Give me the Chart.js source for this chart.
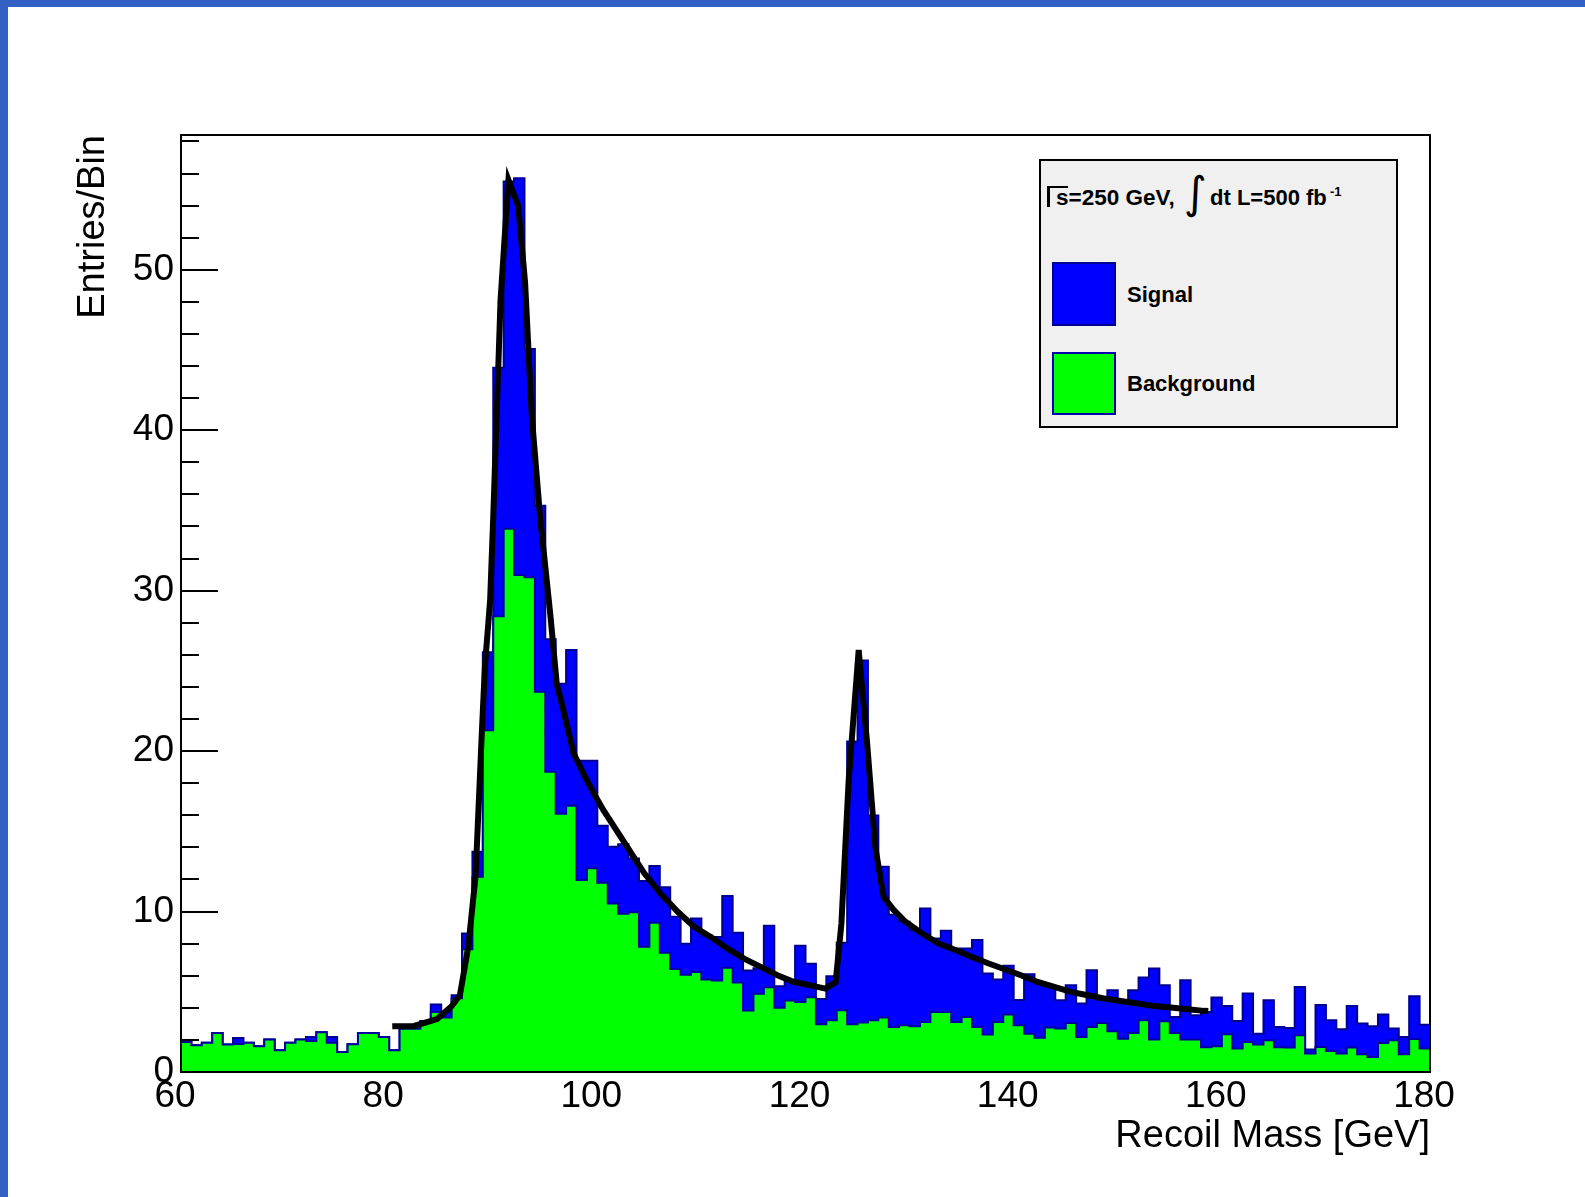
<!DOCTYPE html>
<html>
<head>
<meta charset="utf-8">
<title>Recoil Mass</title>
<script src="https://cdn.jsdelivr.net/npm/chart.js@4.4.1/dist/chart.umd.min.js"></script>
<style>
  html, body { margin: 0; padding: 0; background: #fff; }
  #wrap { position: relative; width: 1585px; height: 1197px; overflow: hidden; background: #fff; }
  #plot { position: absolute; left: 0; top: 0; }
  .band { position: absolute; background: #3260c5; }

  /* legend box, ROOT TLegend look */
  #legend {
    position: absolute; left: 1039px; top: 159px; width: 359px; height: 269px;
    box-sizing: border-box; background: #f0f0f0; border: 2px solid #000;
    font-family: "Liberation Sans", Arial, sans-serif; font-weight: bold; color: #000;
  }
  #legend div { position: absolute; white-space: nowrap; }
  .txt { font-size: 22px; line-height: 22px; }
  .swatch { box-sizing: border-box; width: 64px; height: 64px; }
</style>
</head>
<body>
<div id="wrap">
  <canvas id="plot" width="1585" height="1197"></canvas>
  <div class="band" style="left:0;top:0;width:1585px;height:7px;"></div>
  <div class="band" style="left:0;top:0;width:8px;height:1197px;"></div>

  <div id="legend">
    <div style="left:6px;top:25px;width:3px;height:21px;background:#000;"></div>
    <div style="left:7px;top:25px;width:20px;height:2px;background:#000;"></div>
    <div class="txt" style="left:15px;top:26px;font-size:22.5px;">s=250 GeV,</div>
    <div style="left:143px;top:6px;font-family:'DejaVu Sans';font-weight:normal;font-size:44px;line-height:52px;">&#8747;</div>
    <div class="txt" style="left:169px;top:26px;">dt L=500 fb</div>
    <div style="left:289px;top:24px;font-size:13px;line-height:13px;">-1</div>

    <div class="swatch" style="left:11px;top:101px;background:#0000ff;border:2px solid #000090;"></div>
    <div class="txt" style="left:86px;top:123px;">Signal</div>
    <div class="swatch" style="left:11px;top:191px;height:63px;background:#00ff00;border:2px solid #0000b0;"></div>
    <div class="txt" style="left:86px;top:212px;">Background</div>
  </div>
</div>

<script>
// ---- histogram binning ----
const massMin = 60;
const massMax = 180;
const binWidth = 1;

// signal + background (top of blue stack), one value per 1 GeV bin, 60..180
const totalEntries = [
  1.87, 1.67, 1.83, 2.43, 1.71, 2.12, 1.83, 1.60, 2.02, 1.35,
  1.83, 2.02, 2.18, 2.47, 2.18, 1.25, 1.73, 2.43, 2.43, 2.18,
  1.35, 2.70, 2.70, 3.18, 4.20, 3.74, 4.78, 8.63, 13.72, 26.16,
  43.90, 55.50, 55.70, 45.06, 35.29, 26.97, 24.20, 26.30, 19.40, 19.40,
  15.35, 14.04, 14.20, 13.30, 11.90, 12.84, 11.52, 9.67, 8.00, 9.57,
  8.50, 8.42, 10.97, 8.68, 6.32, 6.47, 9.12, 5.35, 5.70, 7.87,
  6.74, 4.55, 5.97, 8.05, 20.60, 25.64, 15.98, 12.79, 9.80, 9.36,
  8.84, 10.19, 8.32, 8.80, 7.70, 7.70, 8.22, 6.14, 5.76, 6.62,
  4.49, 6.09, 5.51, 5.30, 4.47, 5.41, 4.27, 6.34, 4.47, 5.10,
  4.27, 5.10, 5.89, 6.45, 5.41, 3.43, 5.72, 3.54, 3.74, 4.64,
  4.12, 3.18, 4.89, 2.39, 4.47, 2.81, 2.75, 5.30, 1.40, 4.18,
  3.23, 2.66, 4.12, 3.02, 2.85, 3.58, 2.71, 2.18, 4.72, 2.95
];

// background only (green)
const backgroundEntries = [
  1.87, 1.67, 1.83, 2.43, 1.71, 1.75, 1.83, 1.60, 2.02, 1.35,
  1.83, 2.02, 1.93, 2.47, 1.83, 1.25, 1.73, 2.43, 2.43, 2.18,
  1.35, 2.70, 2.70, 3.18, 3.74, 3.39, 4.60, 7.65, 12.17, 21.30,
  28.40, 33.86, 30.98, 30.84, 23.70, 18.71, 16.10, 16.60, 11.96, 12.70,
  11.80, 10.50, 9.86, 9.95, 7.80, 9.30, 7.44, 6.42, 6.06, 6.24,
  5.76, 5.70, 6.49, 5.58, 3.83, 4.87, 5.28, 4.00, 4.45, 4.37,
  4.66, 2.98, 3.23, 3.85, 2.98, 3.08, 3.23, 3.39, 2.81, 2.91,
  2.85, 3.12, 3.74, 3.74, 3.12, 3.43, 2.81, 2.33, 3.12, 3.58,
  2.91, 2.39, 2.14, 2.77, 2.71, 3.06, 2.18, 2.81, 3.06, 2.54,
  2.08, 2.43, 3.23, 2.02, 3.16, 2.43, 2.02, 2.02, 1.54, 1.60,
  2.35, 1.46, 1.87, 1.71, 1.98, 1.54, 1.52, 2.29, 1.15, 1.56,
  1.31, 1.15, 1.52, 1.10, 0.94, 1.81, 1.98, 1.10, 2.06, 1.46
];

// fitted curve (black)
const fitMass = [
  80.3, 82.4, 84.6, 86.0, 86.8, 87.6, 88.3, 88.9, 89.2, 89.7,
  90.0, 90.7, 91.46, 92.4, 93.06, 93.7, 94.5, 95.5, 96.1, 97.06,
  97.7, 98.67, 99.63, 100.6, 101.3, 102.9, 104.5, 106.1, 107.7, 109.3,
  110.9, 112.5, 114.1, 115.7, 117.3, 118.9, 120.5, 121.9, 122.9, 123.45,
  124.15, 125.11, 125.92, 126.71, 127.51, 128.47, 129.6, 131.2, 132.8, 134.4,
  136.0, 137.6, 139.2, 140.7, 142.3, 143.9, 145.5, 147.1, 148.7, 150.3,
  151.9, 153.5, 155.1, 156.7, 158.3, 158.7
];
const fitEntries = [
  2.85, 2.87, 3.3, 4.1, 4.8, 7.8, 12.2, 21.1, 25.3, 29.4,
  34.6, 48.1, 55.6, 54.0, 49.2, 40.9, 34.6, 28.4, 24.2, 21.7,
  19.9, 18.6, 17.4, 16.3, 15.6, 14.0, 12.4, 11.1, 10.0, 9.05,
  8.42, 7.7, 7.07, 6.55, 6.03, 5.61, 5.4, 5.2, 5.6, 9.26,
  18.2, 26.3, 20.5, 14.0, 10.9, 10.1, 9.36, 8.63, 8.0, 7.6,
  7.17, 6.76, 6.39, 6.03, 5.61, 5.3, 4.99, 4.78, 4.58, 4.43,
  4.27, 4.12, 4.02, 3.91, 3.81, 3.8
];

const xTickValues = [60, 80, 100, 120, 140, 160, 180];
const yTickValues = [0, 10, 20, 30, 40, 50];
const yMax = 58.4;
const yMinorStep = 2;

// step outline: one point per bin low edge, plus the closing edge
function histPoints(values) {
  const pts = values.map((v, i) => ({ x: massMin + i * binWidth, y: v }));
  pts.push({ x: massMax, y: values[values.length - 1] });
  return pts;
}

const fitPoints = fitMass.map((m, i) => ({ x: m, y: fitEntries[i] }));

// ROOT style frame: inward ticks on the y axis, box around the pad
const rootFrame = {
  id: "rootFrame",
  beforeDatasetsDraw(chart) {
    const { ctx, chartArea: a, scales: { y } } = chart;
    ctx.save();
    ctx.strokeStyle = "#000";
    ctx.lineWidth = 2;
    ctx.beginPath();
    for (let v = 0; v <= yMax; v += yMinorStep) {
      const py = Math.round(y.getPixelForValue(v));
      const len = v % 10 === 0 ? 37 : 18;
      ctx.moveTo(a.left, py);
      ctx.lineTo(a.left + len, py);
    }
    ctx.stroke();
    ctx.restore();
  },
  afterDatasetsDraw(chart) {
    const { ctx, chartArea: a } = chart;
    ctx.save();
    ctx.strokeStyle = "#000";
    ctx.lineWidth = 2;
    ctx.strokeRect(a.left, a.top, a.right - a.left, a.bottom - a.top);
    ctx.restore();
  }
};

const axisFont = { family: "'Liberation Sans', Arial, sans-serif", size: 37 };
const titleFont = { family: "'Liberation Sans', Arial, sans-serif", size: 38 };

new Chart(document.getElementById("plot"), {
  type: "line",
  data: {
    datasets: [
      {
        label: "Fit",
        data: fitPoints,
        borderColor: "#000",
        borderWidth: 6,
        borderJoinStyle: "miter",
        pointRadius: 0,
        tension: 0,
        fill: false
      },
      {
        label: "Background",
        data: histPoints(backgroundEntries),
        stepped: "before",
        borderColor: "#0000a0",
        borderWidth: 2,
        backgroundColor: "#00ff00",
        pointRadius: 0,
        fill: "origin"
      },
      {
        label: "Signal",
        data: histPoints(totalEntries),
        stepped: "before",
        borderColor: "#000090",
        borderWidth: 2,
        backgroundColor: "#0000ff",
        pointRadius: 0,
        fill: "origin"
      }
    ]
  },
  options: {
    responsive: false,
    animation: false,
    devicePixelRatio: 1,
    layout: { padding: { top: 135, right: 155, left: 0, bottom: 0 } },
    plugins: { legend: { display: false }, tooltip: { enabled: false } },
    scales: {
      x: {
        type: "linear",
        min: massMin,
        max: massMax,
        border: { display: false },
        grid: { display: false, drawTicks: false },
        afterBuildTicks: s => { s.ticks = xTickValues.map(v => ({ value: v })); },
        ticks: { font: axisFont, color: "#000", padding: 3, labelOffset: -6, maxRotation: 0, autoSkip: false },
        title: {
          display: true, text: "Recoil Mass [GeV]", align: "end",
          font: titleFont, color: "#000", padding: { top: 0, bottom: 38 }
        },
        afterFit: s => { s.height = 125; }
      },
      y: {
        min: 0,
        max: yMax,
        border: { display: false },
        grid: { display: false, drawTicks: false },
        afterBuildTicks: s => { s.ticks = yTickValues.map(v => ({ value: v })); },
        ticks: { font: axisFont, color: "#000", padding: 7 },
        title: {
          display: true, text: "Entries/Bin", align: "end",
          font: titleFont, color: "#000", padding: { top: 71, bottom: 0 }
        },
        afterFit: s => { s.width = 181; }
      }
    }
  },
  plugins: [rootFrame]
});
</script>
</body>
</html>
